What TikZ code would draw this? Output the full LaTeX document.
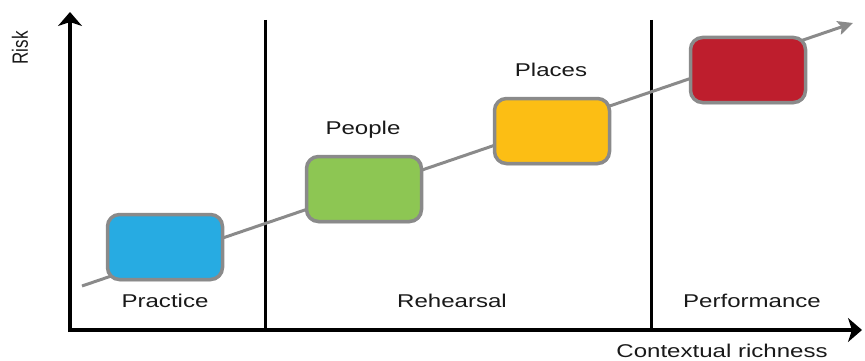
\documentclass[tikz,border=0pt]{standalone}
\usepackage{fontspec}
\setmainfont{Liberation Sans}
\usetikzlibrary{arrows.meta,shadows}
\definecolor{cblue}{RGB}{39,171,226}
\definecolor{cgreen}{RGB}{141,198,83}
\definecolor{cyellow}{RGB}{252,190,20}
\definecolor{cred}{RGB}{190,30,45}
\definecolor{cgray}{RGB}{138,138,138}
\tikzset{
  box/.style={draw=cgray, line width=3.5pt, rounded corners=12pt, minimum width=115pt, minimum height=65pt, inner sep=0pt,
    drop shadow={shadow xshift=0pt, shadow yshift=-2pt, opacity=0.25}},
  lbl/.style={font=\fontsize{18.5}{20}\selectfont, text=black!90, inner sep=0pt, xscale=1.3, transform shape},
  axis/.style={line width=3.5pt, -{Stealth[length=14pt,width=24pt,inset=4pt]}},
  divider/.style={line width=2.5pt},
  trend/.style={cgray, line width=3pt, -{Stealth[length=15pt,width=14pt,inset=3pt]}}
}
\begin{document}
\begin{tikzpicture}[x=1pt,y=-1pt]
\useasboundingbox (0,0) rectangle (865,361);
% axes
\coordinate (origin) at (70,330);
\coordinate (ytop) at (70,12);
\coordinate (xend) at (862,330);
\draw[axis] (70,332) -- (ytop);
\draw[axis] (68,330) -- (xend);
% dividers
\coordinate (d1t) at (265.5,20);
\coordinate (d1b) at (265.5,330);
\coordinate (d2t) at (651.5,20);
\coordinate (d2b) at (651.5,330);
\draw[divider] (d1t) -- (d1b);
\draw[divider] (d2t) -- (d2b);
% trend arrow
\coordinate (tstart) at (82,286);
\coordinate (tend) at (853,23);
\draw[trend] (tstart) -- (tend);
% boxes
\node[box, fill=cblue] (practicebox) at (165,247) {};
\node[box, fill=cgreen] (peoplebox) at (364,189) {};
\node[box, fill=cyellow] (placesbox) at (552,131) {};
\node[box, fill=cred] (perfbox) at (748,70) {};
% labels
\node[lbl] (people) at (363,130) {People};
\node[lbl] (places) at (551,70) {Places};
\node[lbl] (practice) at (165,301) {Practice};
\node[lbl] (rehearsal) at (452,301) {Rehearsal};
\node[lbl] (performance) at (752,301) {Performance};
\node[lbl] (xlabel) at (722,351) {Contextual richness};
\node[font=\fontsize{17}{19}\selectfont, text=black!90, inner sep=0pt, rotate=90] (risk) at (20,48) {\scalebox{1}[1.3]{Risk}};
\end{tikzpicture}
\end{document}
